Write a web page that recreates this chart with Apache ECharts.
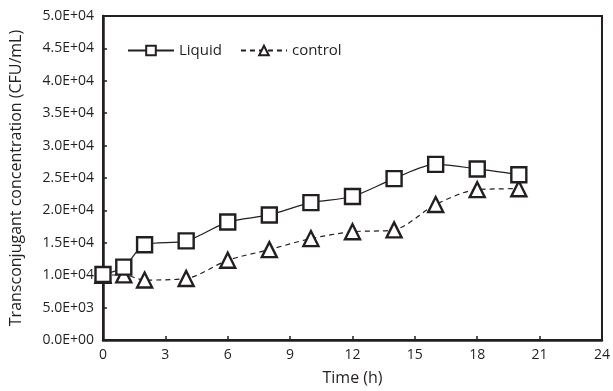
<!DOCTYPE html>
<html>
<head>
<meta charset="utf-8">
<script src="https://cdn.jsdelivr.net/npm/echarts@6/dist/echarts.min.js"></script>
<style>
  html, body { margin: 0; padding: 0; background: #fff; }
  #chart { width: 613px; height: 391px; }
</style>
</head>
<body>
<div id="chart"></div>
<script>
var dom = document.getElementById('chart');
var myChart = echarts.init(dom);

// time points (h)
var time = [0, 1, 2, 4, 6, 8, 10, 12, 14, 16, 18, 20];
// Liquid series (CFU/mL)
var liquid = [10100, 11250, 14700, 15300, 18200, 19300, 21200, 22150, 24900, 27100, 26400, 25500];
// control series (CFU/mL)
var control = [10000, 10050, 9250, 9500, 12300, 13950, 15650, 16700, 17000, 20900, 23200, 23350];

var ink = '#231f20';
var font = 'Open Sans';

function sci(v) {
  if (v === 0) return '0.0E+00';
  var e = Math.floor(Math.log10(v) + 1e-9);
  var m = v / Math.pow(10, e);
  return m.toFixed(1) + 'E+' + (e < 10 ? '0' + e : e);
}

function pairs(ys) {
  var out = [];
  for (var i = 0; i < time.length; i++) {
    out.push([time[i], ys[i]]);
  }
  return out;
}

var option = {
  backgroundColor: '#fff',
  animation: false,
  grid: {
    left: 98,
    right: 11,
    top: 16,
    bottom: 50,
    show: true,
    borderColor: ink,
    borderWidth: 2
  },
  legend: {
    left: 122,
    top: 38,
    itemWidth: 46,
    itemHeight: 12,
    itemGap: 18,
    textStyle: { color: ink, fontSize: 15, fontFamily: font },
    data: ['Liquid', 'control']
  },
  xAxis: {
    type: 'value',
    min: 0,
    max: 24,
    interval: 3,
    name: 'Time (h)',
    nameLocation: 'middle',
    nameGap: 30,
    nameTextStyle: { color: ink, fontSize: 16, fontFamily: font },
    axisLine: { lineStyle: { color: ink, width: 2.5 } },
    axisTick: { inside: true, length: 4, lineStyle: { color: ink, width: 1.5 } },
    axisLabel: { color: ink, fontSize: 14, fontFamily: font, margin: 8 },
    splitLine: { show: false }
  },
  yAxis: {
    type: 'value',
    min: 0,
    max: 50000,
    interval: 5000,
    name: 'Transconjugant concentration (CFU/mL)',
    nameLocation: 'middle',
    nameGap: 79,
    nameTextStyle: { color: ink, fontSize: 16, fontFamily: font },
    axisLine: { show: true, lineStyle: { color: ink, width: 2.5 } },
    axisTick: { show: true, inside: true, length: 4, lineStyle: { color: ink, width: 1.5 } },
    axisLabel: { color: ink, fontSize: 14, fontFamily: font, margin: 9, formatter: sci },
    splitLine: { show: false }
  },
  series: [
    {
      name: 'Liquid',
      type: 'line',
      smooth: 0.3,
      symbol: 'rect',
      symbolSize: 15,
      z: 3,
      lineStyle: { color: ink, width: 1.2, type: 'solid' },
      itemStyle: { color: '#fff', borderColor: ink, borderWidth: 2.4 },
      data: pairs(liquid)
    },
    {
      name: 'control',
      type: 'line',
      smooth: 0.3,
      symbol: 'triangle',
      symbolSize: 15,
      z: 2,
      lineStyle: { color: ink, width: 1.2, type: [5, 4] },
      itemStyle: { color: '#fff', borderColor: ink, borderWidth: 2.4 },
      data: pairs(control)
    }
  ]
};

myChart.setOption(option);
</script>
</body>
</html>
